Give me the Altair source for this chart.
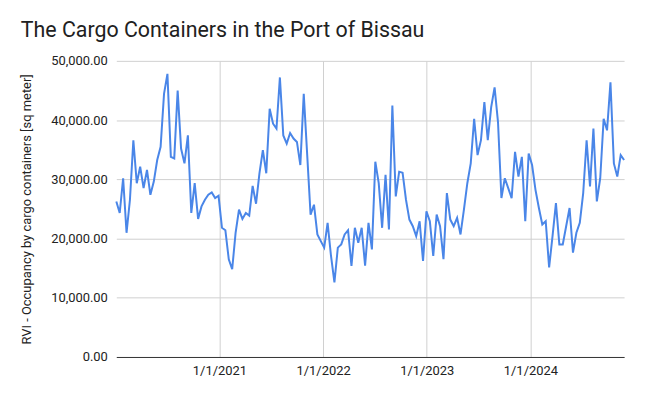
import altair as alt
import pandas as pd

TITLE = "The Cargo Containers in the Port of Bissau"
Y_TITLE = "RVI - Occupancy by cargo containers [sq meter]"

START_DATE = "2020-01-04"
STEP_DAYS = 12

values = [
    26260, 24320, 30180, 20970, 26550, 36600, 29340, 32130, 28500, 31570,
    27390, 29620, 33250, 35480, 44420, 47800, 33800, 33530, 44970, 35200,
    32690, 37430, 24320, 29340, 23320, 25430, 26550, 27390, 27780, 26830,
    27220, 21810, 21400, 16500, 14820, 20970, 24870, 23310, 24320, 23870,
    28890, 25880, 31000, 34920, 31020, 41900, 39390, 38550, 47200, 37400,
    36040, 37820, 36880, 36310, 32410, 44420, 34250, 24040, 25710, 20690,
    19560, 18460, 22650, 17050, 12590, 18460, 19010, 20690, 21410, 15380,
    21810, 19300, 21810, 15400, 22650, 18170, 32960, 29340, 21810, 30740,
    21520, 42460, 27100, 31290, 31120, 26550, 23200, 22080, 20400, 22910,
    16210, 24590, 22910, 17050, 24040, 22080, 16500, 27670, 23200, 22080,
    23480, 20690, 24870, 29340, 32690, 40230, 34090, 36600, 43020, 36600,
    42180, 45530, 39670, 26830, 30180, 28500, 26830, 34640, 30460, 33800,
    22910, 34370, 32410, 28220, 25150, 22360, 22910, 15110, 20400, 25990,
    19010, 19010, 22080, 25150, 17610, 20970, 22650, 27670, 36600, 28780,
    38550, 26270, 30180, 40230, 38270, 46360, 32690, 30460, 34090, 33250,
]

x_tick_years = [2021, 2022, 2023, 2024]
y_ticks = [0, 10000, 20000, 30000, 40000, 50000]

dates = pd.date_range(START_DATE, periods=len(values), freq=f"{STEP_DAYS}D")
df = pd.DataFrame({"date": dates, "value": values})

FONT = "Roboto"

chart = (
    alt.Chart(df)
    .mark_line(color="#4a86e8", strokeWidth=2)
    .encode(
        x=alt.X(
            "date:T",
            title=None,
            scale=alt.Scale(domain=[dates[0].isoformat(), dates[-1].isoformat()]),
            axis=alt.Axis(
                values=[alt.DateTime(year=y, month=1, date=1) for y in x_tick_years],
                format="%-m/%-d/%Y",
                labelFont=FONT,
                labelFontSize=13,
                labelColor="#222222",
                labelPadding=8,
                ticks=False,
                grid=True,
                gridColor="#d0d0d0",
                domainColor="#333333",
                domainWidth=1,
            ),
        ),
        y=alt.Y(
            "value:Q",
            title=Y_TITLE,
            scale=alt.Scale(domain=[0, 50000], nice=False),
            axis=alt.Axis(
                values=y_ticks,
                format=",.2f",
                labelFont=FONT,
                labelFontSize=13,
                labelColor="#222222",
                labelPadding=9,
                ticks=False,
                domain=False,
                grid=True,
                gridColor="#d0d0d0",
                titleFont=FONT,
                titleFontSize=13,
                titleFontWeight="normal",
                titleColor="#222222",
                titlePadding=17,
            ),
        ),
    )
    .properties(
        width=511,
        height=298,
        padding={"left": 12, "top": 10, "right": 11, "bottom": 5},
        title=alt.TitleParams(
            TITLE,
            anchor="start",
            font=FONT,
            fontSize=21.5,
            fontWeight="normal",
            color="#212121",
            offset=14,
        ),
    )
    .configure_view(stroke=None)
)

chart.save("out.html", embed_options={"renderer": "svg", "actions": False})
